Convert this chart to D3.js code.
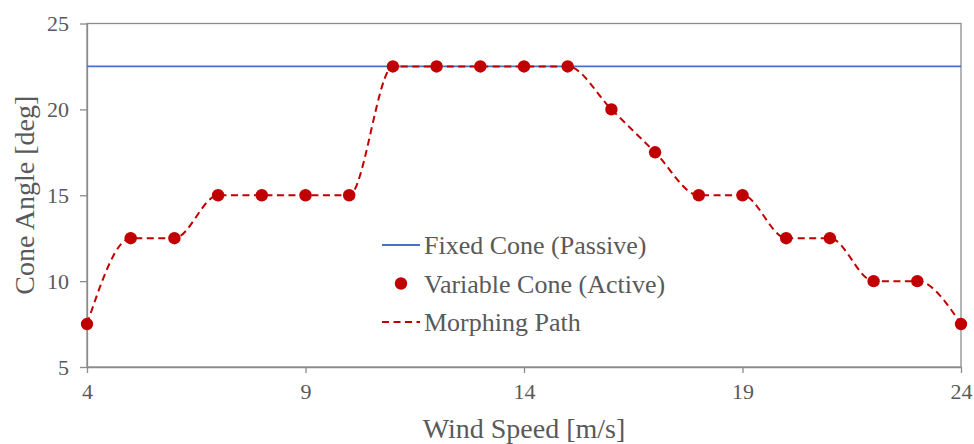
<!DOCTYPE html>
<html>
<head>
<meta charset="utf-8">
<script src="https://cdn.jsdelivr.net/npm/d3@7"></script>
<style>
  body { margin: 0; background: #fff; }
  svg text { font-family: "Liberation Serif", "Times New Roman", serif; fill: #595959; }
</style>
</head>
<body>
<svg id="chart" width="974" height="444"></svg>
<script>
// wind speeds and cone angles
let windSpeed = [4, 5, 6, 7, 8, 9, 10, 11, 12, 13, 14, 15, 16, 17, 18, 19, 20, 21, 22, 23, 24];
let coneActive = [7.5, 12.5, 12.5, 15, 15, 15, 15, 22.5, 22.5, 22.5, 22.5, 22.5, 20, 17.5, 15, 15, 12.5, 12.5, 10, 10, 7.5];
let conePassive = 22.5;
let xTicks = [4, 9, 14, 19, 24];
let yTicks = [5, 10, 15, 20, 25];
let legendNames = ["Fixed Cone (Passive)", "Variable Cone (Active)", "Morphing Path"];

function drawChart() {
    let svg = d3.select("#chart");
    let left = 87, right = 961, top = 23.5, bottom = 367;

    let x = d3.scaleLinear().domain([4, 24]).range([left, right]);
    let y = d3.scaleLinear().domain([5, 25]).range([bottom, top]);

    // plot frame
    svg.append("rect")
        .attr("x", left).attr("y", top)
        .attr("width", right - left).attr("height", bottom - top)
        .attr("fill", "none").attr("stroke", "#8c8c8c").attr("stroke-width", 1.3);

    // x axis
    let xAxis = svg.append("g")
        .attr("transform", "translate(0," + bottom + ")")
        .call(d3.axisBottom(x).tickValues(xTicks).tickSize(6).tickSizeOuter(0).tickPadding(10));
    xAxis.select(".domain").attr("stroke", "#8c8c8c").attr("stroke-width", 1.3);
    xAxis.selectAll(".tick line").attr("stroke", "#8c8c8c").attr("stroke-width", 1.3);
    xAxis.selectAll(".tick text").attr("font-size", 22).attr("fill", "#595959")
        .attr("font-family", "Liberation Serif, serif");

    // y axis
    let yAxis = svg.append("g")
        .attr("transform", "translate(" + left + ",0)")
        .call(d3.axisLeft(y).tickValues(yTicks).tickSize(7).tickSizeOuter(0).tickPadding(11));
    yAxis.select(".domain").attr("stroke", "#8c8c8c").attr("stroke-width", 1.3);
    yAxis.selectAll(".tick line").attr("stroke", "#8c8c8c").attr("stroke-width", 1.3);
    yAxis.selectAll(".tick text").attr("font-size", 22).attr("fill", "#595959")
        .attr("font-family", "Liberation Serif, serif");

    // axis titles
    svg.append("text")
        .attr("x", (left + right) / 2).attr("y", 438)
        .attr("text-anchor", "middle").attr("font-size", 28)
        .text("Wind Speed [m/s]");
    svg.append("text")
        .attr("transform", "translate(34," + ((top + bottom) / 2) + ") rotate(-90)")
        .attr("text-anchor", "middle").attr("font-size", 28)
        .text("Cone Angle [deg]");

    // fixed cone line
    svg.append("line")
        .attr("x1", x(4)).attr("x2", x(24))
        .attr("y1", y(conePassive)).attr("y2", y(conePassive))
        .attr("stroke", "#4472C4").attr("stroke-width", 1.8);

    // morphing path (smoothed)
    let line = d3.line()
        .x((d, i) => x(windSpeed[i]))
        .y(d => y(d))
        .curve(d3.curveMonotoneX);
    svg.append("path")
        .datum(coneActive)
        .attr("d", line)
        .attr("fill", "none")
        .attr("stroke", "#C00000")
        .attr("stroke-width", 2)
        .attr("stroke-dasharray", "7,4.5");

    // active cone points
    svg.append("g").selectAll("circle")
        .data(coneActive)
        .join("circle")
        .attr("cx", (d, i) => x(windSpeed[i]))
        .attr("cy", d => y(d))
        .attr("r", 6.2)
        .attr("fill", "#C00000");

    // legend
    let lg = svg.append("g").attr("transform", "translate(382,245)");
    let rowGap = 38.5;
    lg.append("line").attr("x1", 0).attr("x2", 38).attr("y1", 0).attr("y2", 0)
        .attr("stroke", "#4472C4").attr("stroke-width", 1.8);
    lg.append("circle").attr("cx", 19).attr("cy", rowGap).attr("r", 6.2).attr("fill", "#C00000");
    lg.append("line").attr("x1", 0).attr("x2", 38).attr("y1", rowGap * 2).attr("y2", rowGap * 2)
        .attr("stroke", "#C00000").attr("stroke-width", 2).attr("stroke-dasharray", "7,4.5");
    lg.selectAll("text.name")
        .data(legendNames)
        .join("text")
        .attr("class", "name")
        .attr("x", 42)
        .attr("y", (d, i) => i * rowGap)
        .attr("dy", "0.35em")
        .attr("font-size", 26)
        .text(d => d);
}
drawChart();
</script>
</body>
</html>
